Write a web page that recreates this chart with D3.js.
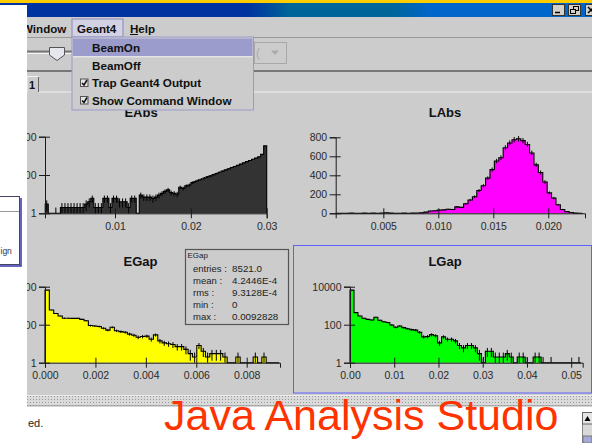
<!DOCTYPE html>
<html><head><meta charset="utf-8">
<script src="https://cdn.jsdelivr.net/npm/d3@7"></script>
<style>html,body{margin:0;padding:0;background:#cccccc;overflow:hidden}svg{display:block}</style>
</head><body>
<svg id="c" width="592" height="443"></svg>
<script>
// ---------------- DATA ----------------
const eAbsBinLo = 0.0008, eAbsBinWidth = 0.0004;
const eAbsCounts = [3,0,0,1,0, 2,2,2,2,2, 2,2,2,3,4, 6,2,2,2,6, 6,2,6,6,4, 4,4,2,6,6,
  0,9,7,7,7, 6,7,9,11,14, 17,12,11,10,23, 20,27,30,40,46, 53,60,70,80,90,
  105,120,140,160,185, 210,245,280,320,370, 430,500,570,660,760, 880,1200,3300];
const lAbsBinLo = 0.0007, lAbsBinWidth = 0.0004;
const lAbsCounts = [1,0,1,2,1, 1,2,1,2,1, 3,6,2,1,1, 2,1,2,3,5, 12,
  25,27,33,36,42, 40,68,62,100,140, 175,240,290,370,460, 550,585,690,740,775,
  785,765,725,635,510, 430,330,215,160,90, 40,18,8,2,0];
const eGapBinLo = 0, eGapBinWidth = 0.000172;
const eGapCounts = [6600,590,390,286,220, 218,214,214,190,162, 90,85,80,65,52, 73,48,43,40,32,
  28,22,24,25,17, 29,14,11,10,9, 7,7,5,3,2, 8,4,2,3,3, 3,2,0,0,2, 0,0,0,2,0, 2,0,0,0];
const lGapBinLo = 0, lGapBinWidth = 0.0009;
const lGapCounts = [6600,430,286,218,190, 177,245,170,144,130, 96,73,85,70,61, 55,52,40,23,24,
  30,26,11,23,17, 17,14,8,6,8, 8,6,3,1,4, 4,2,2,2,3, 2,0,2,2,1, 0,2,2,1,0, 1,0,0,0,0, 0,0,1];
const eAbsXTicks = [0.01, 0.02, 0.03];
const lAbsXTicks = [0.005, 0.010, 0.015, 0.020];
const eGapXTicks = [0, 0.002, 0.004, 0.006, 0.008];
const lGapXTicks = [0, 0.01, 0.02, 0.03, 0.04, 0.05];
const logYTicks = [1, 100, 10000];
const lAbsYTicks = [0, 200, 400, 600, 800];
const statsTitle = "EGap";
const statsLabels = ["entries :", "mean :", "rms :", "min :", "max :"];
const statsValues = ["8521.0", "4.2446E-4", "9.3128E-4", "0", "0.0092828"];
const menuBarItems = ["Window", "Geant4", "Help"];
const menuItems = ["BeamOn", "BeamOff", "Trap Geant4 Output", "Show Command Window"];

// ---------------- DRAW ----------------
const W = 592, H = 443;
const svg = d3.select('#c');
const FONT = "'Liberation Sans', Arial, Helvetica, sans-serif";
svg.attr('font-family', FONT);
const defs = svg.append('defs');
const gr = defs.append('linearGradient').attr('id', 'tb').attr('x1', 0).attr('x2', 1).attr('y1', 0).attr('y2', 0);
[[0,'#0033a0'],[0.42,'#0033a0'],[0.49,'#006699'],[0.66,'#006699'],[0.73,'#0066cc'],[1,'#0066cc']]
  .forEach(([o,c]) => gr.append('stop').attr('offset', o).attr('stop-color', c));
const pat = defs.append('pattern').attr('id','dots').attr('width',3).attr('height',3).attr('patternUnits','userSpaceOnUse');
pat.append('rect').attr('width',3).attr('height',3).attr('fill','#dadada');
pat.append('rect').attr('width',1).attr('height',1).attr('fill','#999');

svg.append('rect').attr('width', W).attr('height', H).attr('fill', '#cccccc');
// title bar
svg.append('rect').attr('x',0).attr('y',0).attr('width',W).attr('height',3).attr('fill','#ffcc00');
svg.append('rect').attr('x',0).attr('y',3).attr('width',W).attr('height',14).attr('fill','url(#tb)');
[552, 568, 585].forEach((bx, i) => {
  svg.append('rect').attr('x', bx+0.5).attr('y', 4.5).attr('width', 12).attr('height', 11).attr('fill', '#d4d0c8').attr('stroke', '#333');
  if (i === 0) svg.append('line').attr('x1', bx+3).attr('x2', bx+8).attr('y1', 12.5).attr('y2', 12.5).attr('stroke', '#000').attr('stroke-width', 1.5);
  if (i === 1) {
    svg.append('rect').attr('x', bx+5.5).attr('y', 6.5).attr('width', 5).attr('height', 4).attr('fill', 'none').attr('stroke', '#000');
    svg.append('rect').attr('x', bx+2.5).attr('y', 9.5).attr('width', 5).attr('height', 4).attr('fill', '#d4d0c8').attr('stroke', '#000');
  }
  if (i === 2) svg.append('path').attr('d', `M${bx+3},7L${bx+9},13M${bx+9},7L${bx+3},13`).attr('stroke', '#000').attr('stroke-width', 1.5);
});

// menu bar
svg.append('rect').attr('x', 72).attr('y', 19).attr('width', 51).attr('height', 18).attr('fill', '#d2d2e4').attr('stroke', '#8888bb');
const mbX = [22, 77, 130];
menuBarItems.forEach((t, i) => svg.append('text').attr('x', mbX[i]).attr('y', 32.5).attr('font-size', 11.6).attr('font-weight', 'bold').attr('fill', '#111').text(t));
svg.append('line').attr('x1', 130).attr('x2', 138).attr('y1', 34.5).attr('y2', 34.5).attr('stroke', '#111');
svg.append('line').attr('x1', 0).attr('x2', W).attr('y1', 37.5).attr('y2', 37.5).attr('stroke', '#999');

// toolbar: slider + combo
svg.append('line').attr('x1', 27).attr('x2', 72).attr('y1', 51.5).attr('y2', 51.5).attr('stroke', '#777').attr('stroke-width', 2);
svg.append('line').attr('x1', 27).attr('x2', 72).attr('y1', 53.5).attr('y2', 53.5).attr('stroke', '#f4f4f4');
svg.append('path').attr('d', 'M49.5,47.5H64.5V55L57,60.5L49.5,55Z').attr('fill', '#e6e6ee').attr('stroke', '#555');
svg.append('rect').attr('x', 254.5).attr('y', 42.5).attr('width', 32).attr('height', 21).attr('fill', '#cccccc').attr('stroke', '#a8a8a8');
svg.append('text').attr('x', 256).attr('y', 57).attr('font-size', 12).attr('fill', '#aaa').text('(');
svg.append('path').attr('d', 'M271,50.5H279L275,55Z').attr('fill', '#aaa');

// tab strip
svg.append('line').attr('x1', 27).attr('x2', W).attr('y1', 71).attr('y2', 71).attr('stroke', '#777').attr('stroke-width', 2);
svg.append('path').attr('d', 'M27,92V76.5H38.5V92').attr('fill', 'none').attr('stroke', '#f2f2f2');
svg.append('line').attr('x1', 38.5).attr('x2', 38.5).attr('y1', 77).attr('y2', 92).attr('stroke', '#666');
svg.append('text').attr('x', 29).attr('y', 89).attr('font-size', 11).attr('font-weight', 'bold').attr('fill', '#111').text('1');
svg.append('line').attr('x1', 39).attr('x2', W).attr('y1', 92).attr('y2', 92).attr('stroke', '#f0f0f0');

// ---------------- PLOTS ----------------
const panels = [
  {title:'EAbs', counts:eAbsCounts, lo:eAbsBinLo, w:eAbsBinWidth, xDomain:[0.00077,0.03], xRange:[45,266.7],
   log:true, yDomain:[1,10000], yRange:[213.3,136.7], xTicks:eAbsXTicks, xFmt:'.2f', yTicks:logYTicks, fill:'#333333', tx:141, ty:116.5},
  {title:'LAbs', counts:lAbsCounts, lo:lAbsBinLo, w:lAbsBinWidth, xDomain:[0.00067,0.02334], xRange:[335.7,585],
   log:false, yDomain:[0,800], yRange:[213.3,137.3], xTicks:lAbsXTicks, xFmt:'.3f', yTicks:lAbsYTicks, fill:'#ff00ff', tx:445, ty:116.5},
  {title:'EGap', counts:eGapCounts, lo:eGapBinLo, w:eGapBinWidth, xDomain:[0,0.00932], xRange:[45,280],
   log:true, yDomain:[1,10000], yRange:[362.7,286.7], xTicks:eGapXTicks, xFmt:'.3f', yTicks:logYTicks, fill:'#ffff00', tx:140.5, ty:266},
  {title:'LGap', counts:lGapCounts, lo:lGapBinLo, w:lGapBinWidth, xDomain:[0,0.0526], xRange:[350,582.7],
   log:true, yDomain:[1,10000], yRange:[362.7,286.7], xTicks:lGapXTicks, xFmt:'.2f', yTicks:logYTicks, fill:'#00ff00', tx:445, ty:266}
];

panels.forEach(p => {
  const g = svg.append('g');
  const x = d3.scaleLinear().domain(p.xDomain).range(p.xRange);
  const y = (p.log ? d3.scaleLog() : d3.scaleLinear()).domain(p.yDomain).range(p.yRange);
  const floor = p.log ? 1 : 0;
  const yv = v => y(Math.max(v, floor));
  const base = y(floor);
  const bins = p.counts.map((v, i) => ({x0: p.lo + i*p.w, x1: p.lo + (i+1)*p.w, v}));
  const last = bins[bins.length-1];
  const pts = [[bins[0].x0, 0]].concat(bins.map(b => [b.x0, b.v])).concat([[last.x1, last.v], [last.x1, 0]]);
  const area = d3.area().curve(d3.curveStepAfter).x(d => x(d[0])).y0(base).y1(d => yv(d[1]));
  const line = d3.line().curve(d3.curveStepAfter).x(d => x(d[0])).y(d => yv(d[1]));
  g.append('path').attr('d', area(pts)).attr('fill', p.fill);
  g.append('path').attr('d', line(pts)).attr('fill', 'none').attr('stroke', '#000').attr('stroke-width', 1.1);
  g.selectAll('line.err').data(bins.filter(b => b.v > 0)).join('line').attr('class', 'err')
    .attr('x1', b => x((b.x0+b.x1)/2)).attr('x2', b => x((b.x0+b.x1)/2))
    .attr('y1', b => yv(b.v - Math.sqrt(b.v))).attr('y2', b => yv(b.v + Math.sqrt(b.v)))
    .attr('stroke', '#000').attr('stroke-width', 1);
  const xa = g.append('g').attr('transform', `translate(0,${base})`)
    .call(d3.axisBottom(x).tickValues(p.xTicks).tickFormat(d3.format(p.xFmt)).tickSizeOuter(0).tickSize(5));
  xa.attr('color', '#1a1a1a').attr('font-family', FONT).attr('font-size', 10.5);
  xa.selectAll('.tick line').attr('y1', -5).attr('y2', 5);
  xa.selectAll('.tick text').attr('y', 16.5).attr('dy', 0).attr('fill', '#2a2a2a');
  const ya = g.append('g').attr('transform', `translate(${p.xRange[0]},0)`)
    .call(d3.axisLeft(y).tickValues(p.yTicks).tickFormat(d3.format('d')).tickSizeOuter(0).tickSize(6));
  ya.attr('color', '#1a1a1a').attr('font-family', FONT).attr('font-size', 10.5);
  ya.selectAll('.tick line').attr('x1', 5).attr('x2', -6);
  ya.selectAll('.tick text').attr('x', -8.5).attr('fill', '#2a2a2a');
  g.append('text').attr('x', p.tx).attr('y', p.ty).attr('text-anchor', 'middle').attr('font-size', 13)
    .attr('font-weight', 'bold').attr('fill', '#111').text(p.title);
});

// stats box
const sb = svg.append('g');
sb.append('rect').attr('x', 185.5).attr('y', 249.5).attr('width', 103).attr('height', 75).attr('fill', '#cccccc').attr('stroke', '#555').attr('stroke-width', 1.2);
sb.append('text').attr('x', 187.5).attr('y', 257.5).attr('font-size', 8).attr('fill', '#222').text(statsTitle);
statsLabels.forEach((l, i) => {
  sb.append('text').attr('x', 193).attr('y', 271.6 + 12.1*i).attr('font-size', 9.5).attr('fill', '#222').text(l);
  sb.append('text').attr('x', 232).attr('y', 271.6 + 12.1*i).attr('font-size', 9.8).attr('fill', '#222').text(statsValues[i]);
});

// selection border around LGap
svg.append('rect').attr('x', 293.5).attr('y', 245.5).attr('width', 298).attr('height', 147.5).attr('fill', 'none').attr('stroke', '#6060ff');

// dropdown menu
svg.append('rect').attr('x', 72).attr('y', 37).attr('width', 181.5).attr('height', 73).attr('fill', '#cccccc').attr('stroke', '#9999cc');
svg.append('rect').attr('x', 73).attr('y', 38.5).attr('width', 179.5).attr('height', 17.5).attr('fill', '#9c9ccc');
svg.append('line').attr('x1', 73).attr('x2', 252.5).attr('y1', 56.8).attr('y2', 56.8).attr('stroke', '#eeeeee');
const miY = [51.7, 70, 87, 104.5];
menuItems.forEach((t, i) => svg.append('text').attr('x', 92).attr('y', miY[i]).attr('font-size', 11.7).attr('font-weight', 'bold').attr('fill', '#111').text(t));
[78.5, 96].forEach(cy => {
  svg.append('rect').attr('x', 80.5).attr('y', cy+0.5).attr('width', 7.5).attr('height', 7.5).attr('fill', '#e4e4e4').attr('stroke', '#555');
  svg.append('path').attr('d', `M82,${cy+4.5}L84,${cy+6.5}L87,${cy+1.5}`).attr('fill', 'none').attr('stroke', '#111').attr('stroke-width', 1.5);
});

// bottom separator + status area
svg.append('line').attr('x1', 27).attr('x2', W).attr('y1', 395.5).attr('y2', 395.5).attr('stroke', '#eeeeee');
svg.append('rect').attr('x', 27).attr('y', 396).attr('width', W-27).attr('height', 9.5).attr('fill', 'url(#dots)');
svg.append('line').attr('x1', 27).attr('x2', W).attr('y1', 406).attr('y2', 406).attr('stroke', '#888');
svg.append('rect').attr('x', 0).attr('y', 406.5).attr('width', W).attr('height', H-406.5).attr('fill', '#ffffff');
svg.append('text').attr('x', 28).attr('y', 427).attr('font-size', 11).attr('fill', '#222').text('ed.');
svg.append('rect').attr('x', 582.5).attr('y', 412.5).attr('width', 10).attr('height', 31).attr('fill', '#d8d8d8').attr('stroke', '#888');
svg.append('rect').attr('x', 582.5).attr('y', 412.5).attr('width', 10).attr('height', 11.5).attr('fill', '#e4e4e4').attr('stroke', '#666');
svg.append('path').attr('d', 'M584.5,421H590.5L587.5,416Z').attr('fill', '#000');
svg.append('rect').attr('x', 583).attr('y', 436).attr('width', 9).attr('height', 7).attr('fill', '#a8a8d8').attr('stroke', '#777');

// left white strip
svg.append('rect').attr('x', 0).attr('y', 5).attr('width', 27).attr('height', 402).attr('fill', '#ffffff');
svg.append('rect').attr('x', -5).attr('y', 196.5).attr('width', 24.5).attr('height', 68).attr('fill', '#ffffff').attr('stroke', '#444466');
svg.append('line').attr('x1', 0).attr('x2', 19).attr('y1', 211.5).attr('y2', 211.5).attr('stroke', '#999');
svg.append('path').attr('d', 'M21,198V266H0').attr('fill', 'none').attr('stroke', '#3333aa').attr('stroke-width', 1.5);
svg.append('text').attr('x', 0.5).attr('y', 254).attr('font-size', 8.5).attr('fill', '#333').text('ign');

// overlay caption
svg.append('text').attr('x', 164).attr('y', 430).attr('font-size', 43).attr('fill', '#ff3300').text('Java Analysis Studio');
</script>
</body></html>
